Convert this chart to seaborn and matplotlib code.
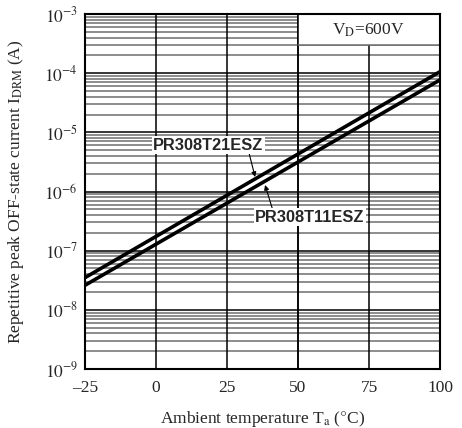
import matplotlib
matplotlib.use("Agg")
import matplotlib.pyplot as plt
import seaborn as sns
import numpy as np
import pandas as pd
from matplotlib.patches import Rectangle

# Data
temps = [-25, 100]
i_t21 = [3.5e-8, 1.06e-4]   # PR308T21ESZ (upper)
i_t11 = [2.6e-8, 7.7e-5]    # PR308T11ESZ (lower)
series_names = ["PR308T21ESZ", "PR308T11ESZ"]
xticks = [-25, 0, 25, 50, 75, 100]
xtick_labels = ["\u201325", "0", "25", "50", "75", "100"]
yticks = [1e-9, 1e-8, 1e-7, 1e-6, 1e-5, 1e-4, 1e-3]

df = pd.DataFrame({
    "T": temps * 2,
    "I": i_t21 + i_t11,
    "device": [series_names[0]] * 2 + [series_names[1]] * 2,
})

sns.set_style("white")
plt.rcParams["font.family"] = ["Liberation Serif", "DejaVu Serif"]
plt.rcParams["mathtext.fontset"] = "stix"

FS = 12.5

fig = plt.figure(figsize=(4.62, 4.28), dpi=100)
ax = fig.add_axes([85/462, 59/428, 355/462, 355/428])

sns.lineplot(data=df, x="T", y="I", units="device", estimator=None,
             color="black", linewidth=2.6, ax=ax, zorder=5, legend=False)

ax.set_yscale("log")
ax.set_xlim(-25, 100)
ax.set_ylim(1e-9, 1e-3)

# grid
for dec in range(-9, -3):
    for m in range(2, 10):
        ax.axhline(m * 10.0**dec, color="#6e6e6e", linewidth=1.1, zorder=1)
for dec in range(-8, -3):
    ax.axhline(10.0**dec, color="black", linewidth=1.1, zorder=1.5)
for xv in [0, 25, 50, 75]:
    ax.axvline(xv, color="black", linewidth=1.1, zorder=1.5)

# white box for V_D label
ax.add_patch(Rectangle((50, 3e-4), 50, 1e-3 - 3e-4, facecolor="white",
                       edgecolor="none", zorder=2))
ax.axvline(50, ymin=0, ymax=1, color="black", linewidth=1.1, zorder=2.5)
ax.axhline(3e-4, xmin=0.6, xmax=1.0, color="#6e6e6e", linewidth=1.1, zorder=2.5)
ax.text(74.6, 5.3e-4, r"V$_\mathrm{D}$=600V", ha="center", va="center",
        fontsize=FS, zorder=3)

ax.set_xticks(xticks)
ax.set_xticklabels(xtick_labels, fontsize=FS)
ax.set_yticks(yticks)
ax.set_yticklabels([r"$10^{%d}$" % int(np.log10(v)) for v in yticks], fontsize=FS)
ax.minorticks_off()
ax.tick_params(axis="x", length=0, pad=8)
ax.tick_params(axis="y", length=0, pad=5)

for s in ax.spines.values():
    s.set_visible(True)
    s.set_color("black")
    s.set_linewidth(1.5)
    s.set_zorder(6)

ax.set_xlabel(r"Ambient temperature T$_\mathrm{a}$ ($\degree$C)", fontsize=FS)
ax.xaxis.set_label_coords(0.5, -0.112)
ax.set_ylabel(r"Repetitive peak OFF-state current I$_\mathrm{DRM}$ (A)", fontsize=FS)
ax.yaxis.set_label_coords(-0.166, 0.5)

bbox = dict(facecolor="white", edgecolor="none", pad=1.0)
LFS = 11.8
ax.annotate(series_names[0], xy=(34.9, 1.76e-6), xytext=(-1.06, 6.1e-6),
            ha="left", va="center", fontsize=LFS, fontweight="bold",
            family="Liberation Sans", bbox=bbox, zorder=7,
            arrowprops=dict(arrowstyle="-|>", color="black", lw=0.8,
                            mutation_scale=7, shrinkA=0, shrinkB=0,
                            relpos=(0.87, 0.0)))
ax.annotate(series_names[1], xy=(38.4, 1.29e-6), xytext=(34.9, 3.7e-7),
            ha="left", va="center", fontsize=LFS, fontweight="bold",
            family="Liberation Sans", bbox=bbox, zorder=7,
            arrowprops=dict(arrowstyle="-|>", color="black", lw=0.8,
                            mutation_scale=7, shrinkA=0, shrinkB=0,
                            relpos=(0.16, 1.0)))

fig.savefig("out.png", dpi=100)
